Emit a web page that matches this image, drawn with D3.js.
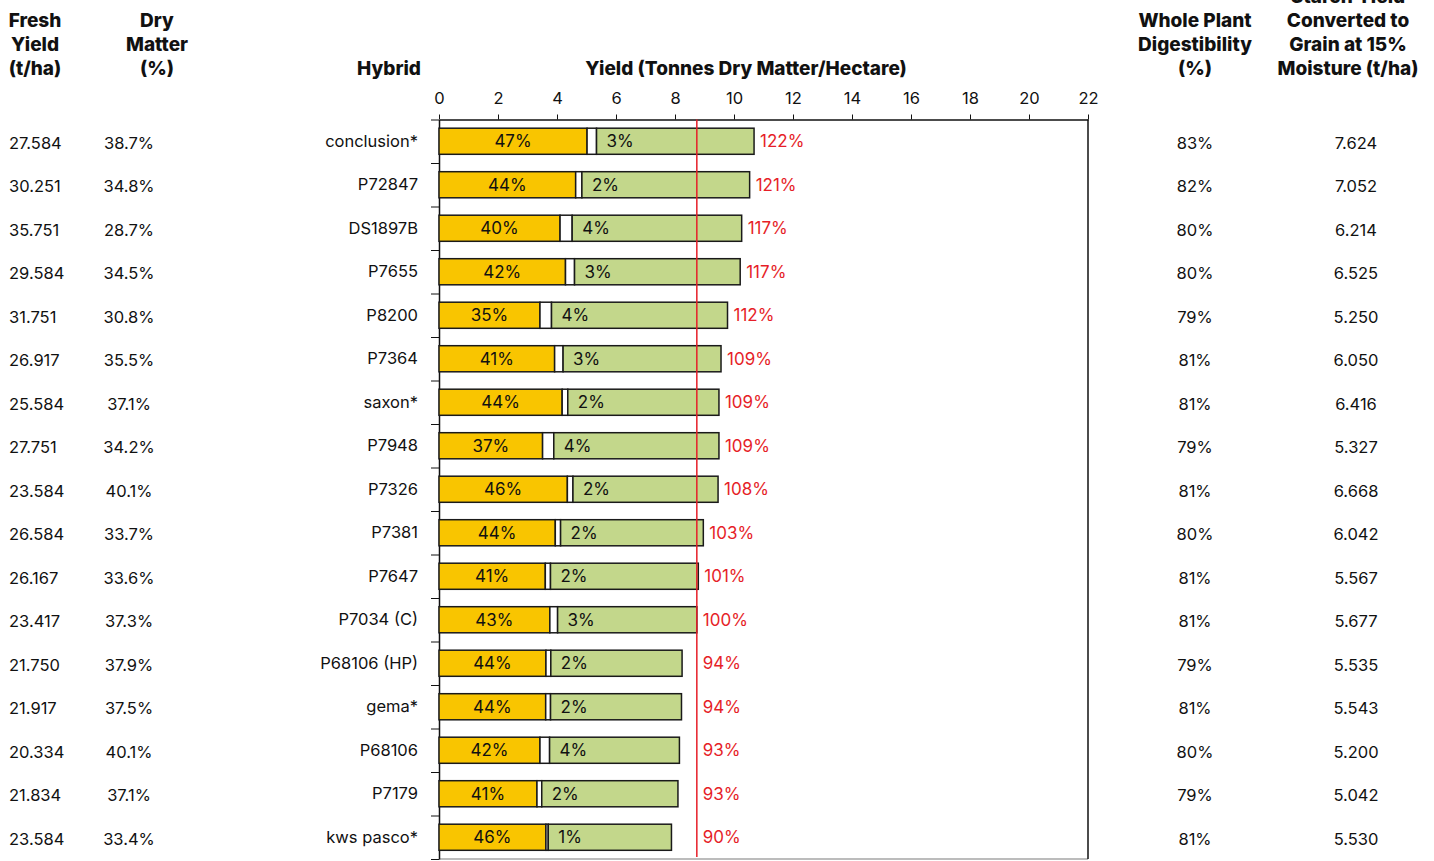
<!DOCTYPE html>
<html>
<head>
<meta charset="utf-8">
<script src="https://cdn.jsdelivr.net/npm/d3@7"></script>
<style>
  body { margin: 0; background: #fff; }
  svg text { font-family: Inter, "Noto Sans", sans-serif; fill: #111; }
  .hdr { font-weight: 800; font-size: 19px; }
  .cell { font-size: 16.5px; }
</style>
</head>
<body>
<svg id="chart" width="1434" height="861"></svg>
<script>
// hybrids top to bottom
let hybrids = ['conclusion*', 'P72847', 'DS1897B', 'P7655', 'P8200', 'P7364', 'saxon*', 'P7948', 'P7326', 'P7381', 'P7647', 'P7034 (C)', 'P68106 (HP)', 'gema*', 'P68106', 'P7179', 'kws pasco*']
let freshYield = ['27.584', '30.251', '35.751', '29.584', '31.751', '26.917', '25.584', '27.751', '23.584', '26.584', '26.167', '23.417', '21.750', '21.917', '20.334', '21.834', '23.584']
let dryMatter = ['38.7%', '34.8%', '28.7%', '34.5%', '30.8%', '35.5%', '37.1%', '34.2%', '40.1%', '33.7%', '33.6%', '37.3%', '37.9%', '37.5%', '40.1%', '37.1%', '33.4%']
// dry matter yield t/ha (bar length)
let dmYield = [10.68, 10.53, 10.26, 10.21, 9.78, 9.56, 9.49, 9.49, 9.46, 8.96, 8.79, 8.74, 8.24, 8.22, 8.15, 8.10, 7.88]
// share of the bar: starch (yellow) and sugar (white), in %
let starchPct = [47, 44, 40, 42, 35, 41, 44, 37, 46, 44, 41, 43, 44, 44, 42, 41, 46]
let sugarPct = [3, 2, 4, 3, 4, 3, 2, 4, 2, 2, 2, 3, 2, 2, 4, 2, 1]
let relPct = [122, 121, 117, 117, 112, 109, 109, 109, 108, 103, 101, 100, 94, 94, 93, 93, 90]
let digest = ['83%', '82%', '80%', '80%', '79%', '81%', '81%', '79%', '81%', '80%', '81%', '81%', '79%', '81%', '80%', '79%', '81%']
let starchGrain = ['7.624', '7.052', '6.214', '6.525', '5.250', '6.050', '6.416', '5.327', '6.668', '6.042', '5.567', '5.677', '5.535', '5.543', '5.200', '5.042', '5.530']
let checkYield = 8.74
let xTicks = d3.range(0, 23, 2)

let yellow = '#F9C500'
let green = '#C3D78B'
let red = '#E61E28'

let margin = { left: 439, right: 346, top: 119.5, bottom: 2 }
let W = 1434, H = 861

let svg = d3.select('#chart')

let xscale = d3.scaleLinear().domain([0, 22]).range([margin.left, W - margin.right])
let yscale = d3.scaleBand().domain(hybrids).range([margin.top, H - margin.bottom])
    .paddingInner(0.4).paddingOuter(0.2)

let rows = hybrids.map((h, i) => {
    let y0 = dmYield[i] * starchPct[i] / 100
    let y1 = y0 + dmYield[i] * sugarPct[i] / 100
    return { h: h, i: i, starchEnd: y0, sugarEnd: y1, total: dmYield[i] }
})

// plot frame
svg.append('line').attr('x1', xscale(0)).attr('x2', xscale(22))
    .attr('y1', H - margin.bottom).attr('y2', H - margin.bottom)
    .style('stroke', '#a6a6a6').style('stroke-width', 1.5)
svg.append('line').attr('x1', xscale(22)).attr('x2', xscale(22))
    .attr('y1', margin.top).attr('y2', H - margin.bottom)
    .style('stroke', '#111').style('stroke-width', 1.5)

// top axis
let xaxis = svg.append('g').attr('transform', `translate(0,${margin.top})`)
    .call(d3.axisTop(xscale).tickValues(xTicks).tickSizeInner(5).tickSizeOuter(0).tickPadding(11))
xaxis.select('.domain').style('stroke', '#111').style('stroke-width', 1.5)
xaxis.selectAll('.tick line').style('stroke', '#111')
xaxis.selectAll('.tick text').style('font-size', '16.5px').style('font-family', 'Inter, sans-serif').attr('fill', '#111')

// left axis with ticks between categories
let idx = d3.scaleLinear().domain([0, hybrids.length]).range([margin.top, H - margin.bottom])
let yaxis = svg.append('g').attr('transform', `translate(${margin.left},0)`)
    .call(d3.axisLeft(idx).ticks(hybrids.length).tickFormat('').tickSizeInner(8).tickSizeOuter(0))
yaxis.select('.domain').style('stroke', '#111').style('stroke-width', 1.5)
yaxis.selectAll('.tick line').style('stroke', '#111')

// bars
let bar = svg.append('g').selectAll('g').data(rows).enter().append('g')

bar.append('rect').attr('x', xscale(0)).attr('y', d => yscale(d.h))
    .attr('width', d => xscale(d.starchEnd) - xscale(0)).attr('height', yscale.bandwidth())
    .style('fill', yellow)
bar.append('rect').attr('x', d => xscale(d.starchEnd)).attr('y', d => yscale(d.h))
    .attr('width', d => xscale(d.sugarEnd) - xscale(d.starchEnd)).attr('height', yscale.bandwidth())
    .style('fill', '#fff')
bar.append('rect').attr('x', d => xscale(d.sugarEnd)).attr('y', d => yscale(d.h))
    .attr('width', d => xscale(d.total) - xscale(d.sugarEnd)).attr('height', yscale.bandwidth())
    .style('fill', green)
bar.selectAll('rect').style('stroke', '#1a1a1a').style('stroke-width', 1.5)

bar.append('text').attr('x', d => (xscale(0) + xscale(d.starchEnd)) / 2)
    .attr('y', d => yscale(d.h) + yscale.bandwidth() / 2)
    .attr('dy', '0.36em').attr('text-anchor', 'middle').style('font-size', '17px')
    .text(d => starchPct[d.i] + '%')
bar.append('text').attr('x', d => xscale(d.sugarEnd) + 10)
    .attr('y', d => yscale(d.h) + yscale.bandwidth() / 2)
    .attr('dy', '0.36em').style('font-size', '17px')
    .text(d => sugarPct[d.i] + '%')

// check line
svg.append('line').attr('x1', xscale(checkYield)).attr('x2', xscale(checkYield))
    .attr('y1', margin.top).attr('y2', H - margin.bottom - 2)
    .style('stroke', red).style('stroke-width', 1.5)

bar.append('text').attr('x', d => xscale(Math.max(d.total, checkYield)) + 6)
    .attr('y', d => yscale(d.h) + yscale.bandwidth() / 2)
    .attr('dy', '0.36em').style('font-size', '17px').style('fill', red)
    .text(d => relPct[d.i] + '%')

// table columns
function column(values, x, anchor, shift) {
    svg.append('g').selectAll('text').data(values).enter().append('text')
        .attr('class', 'cell')
        .attr('x', x).attr('y', (d, i) => yscale(hybrids[i]) + yscale.bandwidth() / 2 + shift)
        .attr('dy', '0.36em').attr('text-anchor', anchor)
        .text(d => d)
}
column(freshYield, 9, 'start', 1.5)
column(dryMatter, 129, 'middle', 1.5)
column(hybrids, 418, 'end', -0.5)
column(digest, 1195, 'middle', 1.5)
column(starchGrain, 1356, 'middle', 1.5)

// headers
function header(lines, x, lastBaseline) {
    let t = svg.append('text').attr('class', 'hdr').attr('text-anchor', 'middle')
    lines.forEach((l, i) => {
        t.append('tspan').attr('x', x).attr('y', lastBaseline - (lines.length - 1 - i) * 24).text(l)
    })
}
header(['Fresh', 'Yield', '(t/ha)'], 35, 75)
header(['Dry', 'Matter', '(%)'], 157, 75)
header(['Hybrid'], 389, 75)
header(['Yield (Tonnes Dry Matter/Hectare)'], 746, 75)
header(['Whole Plant', 'Digestibility', '(%)'], 1195, 75)
header(['Starch Yield', 'Converted to', 'Grain at 15%', 'Moisture (t/ha)'], 1348, 75)
</script>
</body>
</html>
